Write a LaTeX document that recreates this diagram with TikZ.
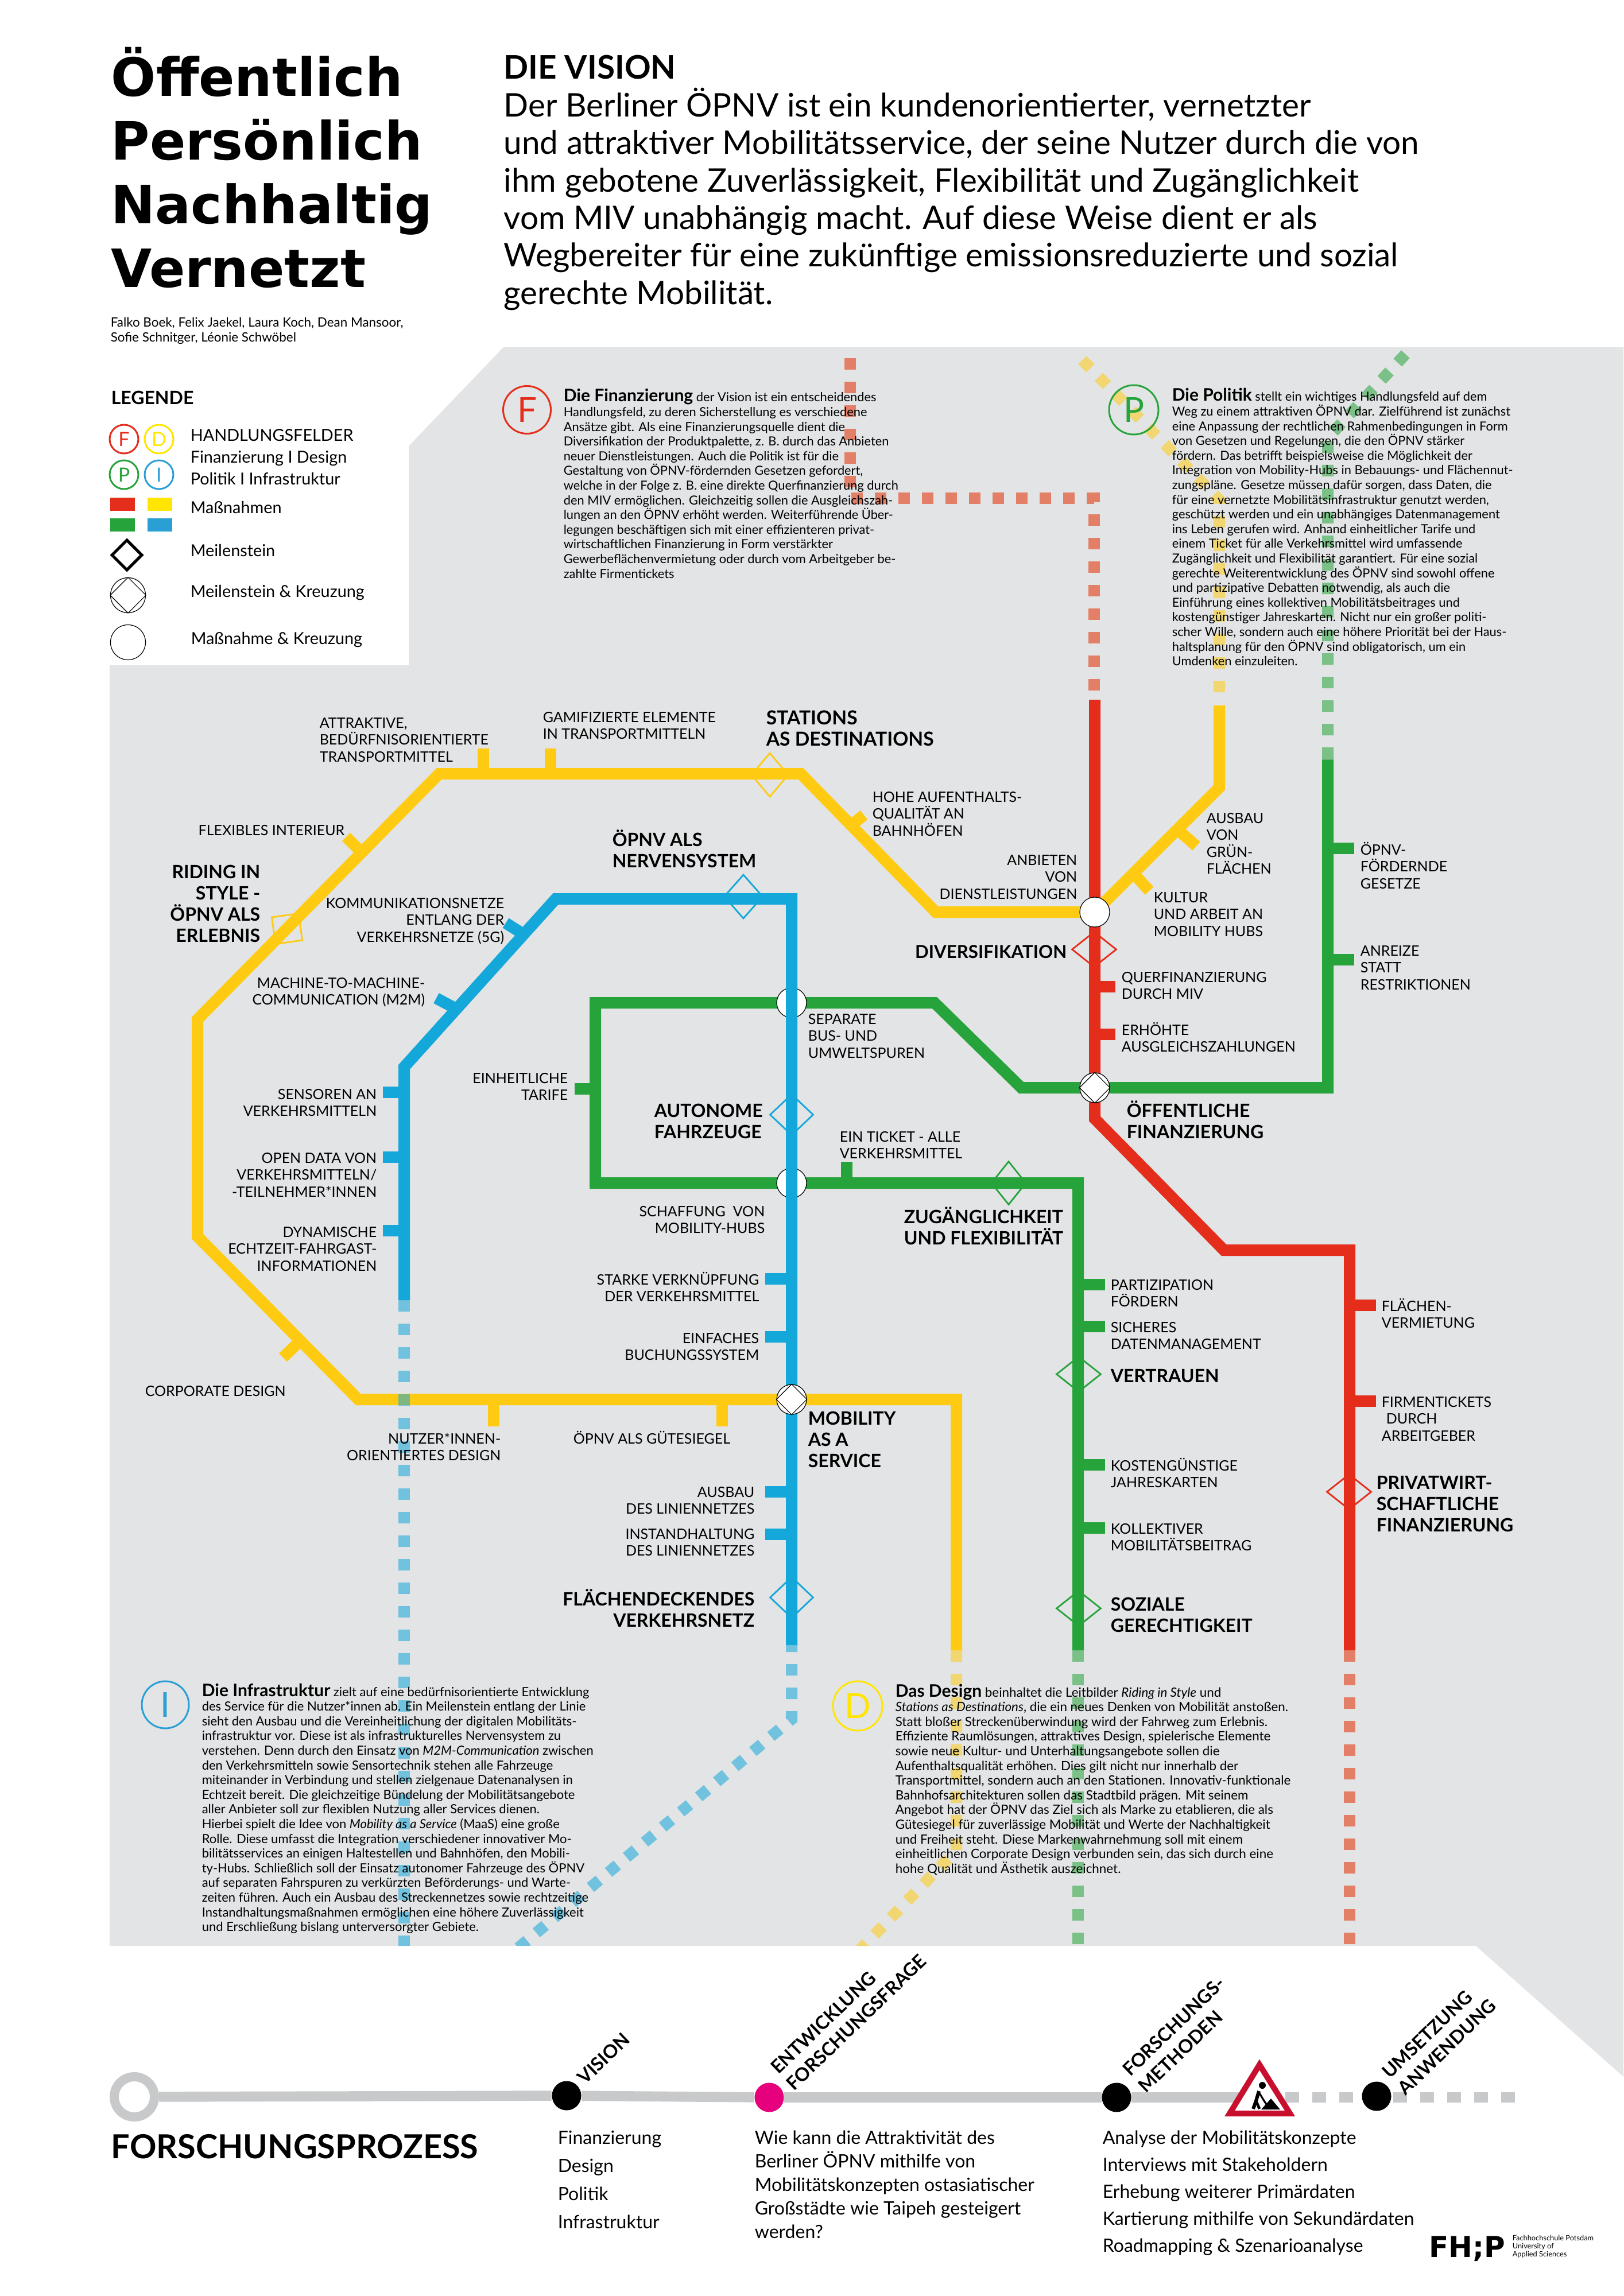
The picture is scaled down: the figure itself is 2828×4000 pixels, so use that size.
\documentclass[tikz,border=0pt]{standalone}
\usepackage{fontspec}
\usepackage{varwidth}
\setmainfont{Lato}
\newfontfamily\titlefont{DejaVu Sans}
\usetikzlibrary{shapes.geometric}
\definecolor{panel}{HTML}{E2E4E5}
\definecolor{lred}{HTML}{E42D1B}
\definecolor{lredfade}{HTML}{E42D00}
\definecolor{lyellow}{HTML}{FFCB12}
\definecolor{lgreen}{HTML}{27A33B}
\definecolor{lblue}{HTML}{14A7DA}
\definecolor{fieldyellow}{HTML}{FFE500}
\definecolor{fieldblue}{HTML}{2A9FD6}
\definecolor{procgray}{HTML}{C8C9CA}
\definecolor{procpink}{HTML}{E6007E}
\definecolor{warnred}{HTML}{C8102E}
\tikzset{
	rline/.style={draw=lred,line width=5pt},
	yline/.style={draw=lyellow,line width=5pt},
	gline/.style={draw=lgreen,line width=5pt},
	bline/.style={draw=lblue,line width=5pt},
	fade/.style={opacity=.55,dash pattern=on 5pt off 5.25pt},
	crossing/.style={circle,draw,fill=white,inner sep=0pt,line width=.3pt,minimum size=13pt},
	mile/.style n args={3}{diamond,aspect=1,draw=#1,inner sep=0pt,line width=.7pt,minimum width=#2*.25pt,minimum height=#3*.25pt},
	field/.style n args={3}{circle,draw=#1,text=#1,inner sep=0pt,line width=.75pt,minimum size=#2*.25pt,font=\fontsize{#3}{#3}\selectfont},
	lab/.style={inner sep=0pt,anchor=base west,font=\fontsize{6.25}{7.4}\selectfont,execute at begin node={\begin{varwidth}[t]{500pt}\raggedright},execute at end node={\end{varwidth}}},
	labr/.style={lab,anchor=base east,execute at begin node=\raggedleft},
	hd/.style={lab,font=\fontsize{8}{9.25}\selectfont\bfseries},
	hdr/.style={labr,font=\fontsize{8}{9.25}\selectfont\bfseries},
	body/.style={lab,font=\fontsize{5.45}{6.4}\selectfont},
	legend/.style={lab,font=\fontsize{7.2}{9.5}\selectfont},
	visiontext/.style={lab,font=\fontsize{14.15}{16.35}\selectfont},
	steptext/.style={lab,font=\fontsize{8}{#1}\selectfont},
	steplabel/.style={lab,rotate=44,anchor=south west,font=\fontsize{8.1}{10}\selectfont\bfseries},
	stepdot/.style={circle,fill=#1,inner sep=0pt,minimum size=12.75pt},
	procline/.style={draw=procgray,line width=4.4pt}
}
\newcommand{\bodyhead}[1]{{\fontsize{7.5}{6.4}\selectfont\bfseries #1}}
\begin{document}
\begin{tikzpicture}[x=.25pt,y=-.25pt]
\useasboundingbox (0,0) rectangle (2828,4000);
\fill[panel] (877,605) -- (2828,605) -- (2828,3618) -- (2571,3390) -- (191,3390) -- (191,1159) -- (712,1159) -- (712,777) -- cycle;

\coordinate (crossYR) at (1907,1589);
\coordinate (crossGBa) at (1379,1747);
\coordinate (crossGBb) at (1379,2061);
\coordinate (crossYB) at (1379,2438);
\coordinate (crossRG) at (1907,1895);

\draw[yline] (crossYR) -- (1630,1589) -- (1395,1348) -- (765,1348) -- (344,1776) -- (344,2154) -- (624,2438) -- (1666,2438) -- (1666,2875);
\draw[yline] (crossYR) -- (2124,1372) -- (2124,1229);
\foreach \x in {842,959}
	\draw[yline] (\x,1304) -- (\x,1348);
\foreach \x in {860,1258}
	\draw[yline] (\x,2438) -- (\x,2485);
\draw[yline] (631,1486) -- (603,1458);
\draw[yline] (523,2336) -- (493,2365);
\draw[yline] (1482,1438) -- (1505,1420);
\draw[yline] (2051,1445) -- (2084,1474);
\draw[yline] (1975,1522) -- (2002,1552);

\draw[rline] (1907,1219) -- (1907,1949) -- (2132,2178) -- (2351,2178) -- (2351,2875);
\foreach \y in {1719,1802}
	\draw[rline] (1907,\y) -- (1943,\y);
\foreach \y in {2274,2441}
	\draw[rline] (2351,\y) -- (2397,\y);

\draw[gline] (2313,1323) -- (2313,1895) -- (1779,1895) -- (1628,1747) -- (1037,1747) -- (1037,2061) -- (1878,2061) -- (1878,2875);
\foreach \y in {1478,1672}
	\draw[gline] (2313,\y) -- (2359,\y);
\foreach \y in {2238,2311,2552,2662}
	\draw[gline] (1878,\y) -- (1925,\y);
\draw[gline] (1037,1897) -- (1001,1897);
\draw[gline] (1475,2061) -- (1475,2024);

\node[crossing] (kGBa) at (crossGBa) {};
\node[crossing] (kGBb) at (crossGBb) {};

\draw[bline] (704,2265) -- (704,1859) -- (968,1566) -- (1379,1566) -- (1379,2866);
\foreach \y in {1903,2016,2144}
	\draw[bline] (704,\y) -- (667,\y);
\foreach \y in {2228,2329,2599,2673}
	\draw[bline] (1379,\y) -- (1333,\y);
\draw[bline] (911,1627) -- (881,1608);
\draw[bline] (792,1756) -- (760,1739);

\begin{scope}
\clip (877,605) -- (2828,605) -- (2828,3618) -- (2571,3390) -- (191,3390) -- (191,1159) -- (712,1159) -- (712,777) -- cycle;
\draw[yline,fade] (2124,1206) -- (2124,871) -- (1892,634) -- (1880,622);
\draw[rline,fade,draw=lredfade] (1906,1203) -- (1906,868) -- (1481,868) -- (1481,622);
\draw[gline,fade] (2313,1322) -- (2313,763) -- (2453,612);
\draw[bline,fade] (704,2265) -- (704,3400);
\draw[bline,fade] (1379,2858) -- (1379,2995) -- (895,3400);
\draw[yline,fade] (1666,2875) -- (1666,3223) -- (1495,3400);
\draw[gline,fade] (1878,2875) -- (1878,3400);
\draw[rline,fade,draw=lredfade] (2351,2875) -- (2351,3400);
\end{scope}

\node[crossing] (kYR) at (crossYR) {};
\node[crossing] (kYB) at (crossYB) {};
\node[crossing] (kRG) at (crossRG) {};
\draw[line width=.3pt] (kYB.north) -- (kYB.east) -- (kYB.south) -- (kYB.west) -- cycle;
\draw[line width=.3pt] (kRG.north) -- (kRG.east) -- (kRG.south) -- (kRG.west) -- cycle;

\node[mile={lyellow}{65}{77}] (mStations) at (1341,1350) {};
\node[draw=lyellow,line width=.7pt,inner sep=0pt,minimum size=11.75pt,rotate=8] (mRiding) at (500,1618) {};
\node[mile={lblue}{68}{77}] (mNerven) at (1295,1562) {};
\node[mile={lblue}{76}{72}] (mAutonom) at (1379,1942) {};
\node[mile={lblue}{76}{72}] (mFlaeche) at (1379,2783) {};
\node[mile={lgreen}{61}{76}] (mZugang) at (1757,2061) {};
\node[mile={lgreen}{78}{62}] (mVertrauen) at (1879,2394) {};
\node[mile={lgreen}{78}{62}] (mSozial) at (1879,2802) {};
\node[mile={lred}{78}{62}] (mDivers) at (1906,1654) {};
\node[mile={lred}{78}{62}] (mPrivat) at (2350,2599) {};

\node[lab] (lAttraktiv) at (556,1268) {ATTRAKTIVE,\\BEDÜRFNISORIENTIERTE\\TRANSPORTMITTEL};
\node[lab] (lGamify) at (945,1258) {GAMIFIZIERTE ELEMENTE\\IN TRANSPORTMITTELN};
\node[labr] (lFlex) at (601,1455) {FLEXIBLES INTERIEUR};
\node[labr] (lKommu) at (879,1582) {KOMMUNIKATIONSNETZE\\ENTLANG DER\\VERKEHRSNETZE (5G)};
\node[labr] (lMachine) at (741,1721) {MACHINE-TO-MACHINE-\\COMMUNICATION (M2M)};
\node[labr] (lSensor) at (657,1915) {SENSOREN AN\\VERKEHRSMITTELN};
\node[labr] (lOpen) at (657,2026) {OPEN DATA VON\\VERKEHRSMITTELN/\\-TEILNEHMER*INNEN};
\node[labr] (lDyna) at (657,2155) {DYNAMISCHE\\ECHTZEIT-FAHRGAST-\\INFORMATIONEN};
\node[labr] (lTarife) at (990,1887) {EINHEITLICHE\\TARIFE};
\node[labr] (lHubs) at (1333,2119) {SCHAFFUNG\ \ VON\\MOBILITY-HUBS};
\node[labr] (lStark) at (1323,2238) {STARKE VERKNÜPFUNG\\DER VERKEHRSMITTEL};
\node[labr] (lBuch) at (1323,2340) {EINFACHES\\BUCHUNGSSYSTEM};
\node[lab] (lCorp) at (252,2432) {CORPORATE DESIGN};
\node[labr] (lNutzer) at (873,2515) {NUTZER*INNEN-\\ORIENTIERTES DESIGN};
\node[lab] (lGuete) at (998,2515) {ÖPNV ALS GÜTESIEGEL};
\node[labr] (lNetz) at (1315,2608) {AUSBAU\\DES LINIENNETZES};
\node[labr] (lInstand) at (1315,2681) {INSTANDHALTUNG\\DES LINIENNETZES};
\node[lab] (lSepar) at (1407,1784) {SEPARATE\\BUS- UND\\UMWELTSPUREN};
\node[lab] (lTicket) at (1462,1989) {EIN TICKET - ALLE\\VERKEHRSMITTEL};
\node[lab] (lHohe) at (1519,1397) {HOHE AUFENTHALTS-\\QUALITÄT AN\\BAHNHÖFEN};
\node[labr] (lAnbiet) at (1877,1507) {ANBIETEN\\VON\\DIENSTLEISTUNGEN};
\node[lab] (lGruen) at (2101,1434) {AUSBAU\\VON\\GRÜN-\\FLÄCHEN};
\node[lab] (lKultur) at (2009,1572) {KULTUR\\UND ARBEIT AN\\MOBILITY HUBS};
\node[lab] (lQuer) at (1953,1711) {QUERFINANZIERUNG\\DURCH MIV};
\node[lab] (lErhoeht) at (1953,1803) {ERHÖHTE\\AUSGLEICHSZAHLUNGEN};
\node[lab] (lGesetz) at (2369,1489) {ÖPNV-\\FÖRDERNDE\\GESETZE};
\node[lab] (lAnreiz) at (2369,1665) {ANREIZE\\STATT\\RESTRIKTIONEN};
\node[lab] (lPartizip) at (1934,2247) {PARTIZIPATION\\FÖRDERN};
\node[lab] (lDaten) at (1934,2321) {SICHERES\\DATENMANAGEMENT};
\node[lab] (lKosten) at (1934,2562) {KOSTENGÜNSTIGE\\JAHRESKARTEN};
\node[lab] (lKollekt) at (1934,2672) {KOLLEKTIVER\\MOBILITÄTSBEITRAG};
\node[lab] (lVermiet) at (2406,2284) {FLÄCHEN-\\VERMIETUNG};
\node[lab] (lFirmen) at (2406,2451) {FIRMENTICKETS\\\hspace*{2pt}DURCH\\ARBEITGEBER};

\node[hdr] (hRiding) at (454,1530) {RIDING IN\\STYLE -\\ÖPNV ALS\\ERLEBNIS};
\node[hd] (hNerven) at (1066,1474) {ÖPNV ALS\\NERVENSYSTEM};
\node[hd,font=\fontsize{8.4}{9.25}\selectfont\bfseries] (hStations) at (1334,1262) {STATIONS\\AS DESTINATIONS};
\node[hd] (hAutonom) at (1139,1946) {AUTONOME\\FAHRZEUGE};
\node[hd] (hMobility) at (1407,2482) {MOBILITY\\AS A\\SERVICE};
\node[hdr] (hFlaeche) at (1315,2797) {FLÄCHENDECKENDES\\VERKEHRSNETZ};
\node[hdr,font=\fontsize{7.8}{9.25}\selectfont\bfseries] (hDivers) at (1859,1669) {DIVERSIFIKATION};
\node[hd] (hOeffent) at (1962,1946) {ÖFFENTLICHE\\FINANZIERUNG};
\node[hd] (hZugang) at (1574,2131) {ZUGÄNGLICHKEIT\\UND FLEXIBILITÄT};
\node[hd] (hVertrauen) at (1934,2408) {VERTRAUEN};
\node[hd] (hSozial) at (1934,2806) {SOZIALE\\GERECHTIGKEIT};
\node[hd] (hPrivat) at (2397,2594) {PRIVATWIRT-\\SCHAFTLICHE\\FINANZIERUNG};

\node[lab,font=\fontsize{23}{27.75}\selectfont\titlefont\bfseries] (title) at (193,168) {Öffentlich\\Persönlich\\Nachhaltig\\Vernetzt};
\node[lab,font=\fontsize{5.6}{6.5}\selectfont] (authors) at (192,570) {Falko Boek, Felix Jaekel, Laura Koch, Dean Mansoor,\\Sofie Schnitger, Léonie Schwöbel};
\node[visiontext] (vision) at (877,138) {\textbf{DIE VISION}\\Der Berliner ÖPNV ist ein kundenorientierter, vernetzter\\und attraktiver Mobilitätsservice, der seine Nutzer durch die von\\ihm gebotene Zuverlässigkeit, Flexibilität und Zugänglichkeit\\vom MIV unabhängig macht. Auf diese Weise dient er als\\Wegbereiter für eine zukünftige emissionsreduzierte und sozial\\gerechte Mobilität.};

\node[lab,font=\fontsize{8}{9}\selectfont\bfseries] (legendTitle) at (193,705) {LEGENDE};
\node[field={lred}{50}{8.5}] (lgF) at (216,765) {F};
\node[field={fieldyellow}{50}{8.5}] (lgD) at (277,765) {D};
\node[field={lgreen}{50}{8.5}] (lgP) at (216,827) {P};
\node[field={fieldblue}{50}{8.5}] (lgI) at (277,827) {I};
\node[legend] (lgFields) at (331,769) {HANDLUNGSFELDER\\Finanzierung I Design\\Politik I Infrastruktur};
\fill[lred] (192,867) rectangle (235,890);
\fill[fieldyellow] (257,867) rectangle (300,890);
\fill[lgreen] (192,903) rectangle (235,926);
\fill[fieldblue] (257,903) rectangle (300,926);
\node[legend] (lgMeasure) at (331,895) {Maßnahmen};
\node[diamond,aspect=1,draw,line width=1.25pt,inner sep=0pt,minimum size=13.5pt] (lgMile) at (221,967) {};
\node[legend] (lgMileText) at (331,969) {Meilenstein};
\node[crossing,minimum size=15.25pt] (lgCross) at (223,1037) {};
\draw[line width=.3pt] (lgCross.north) -- (lgCross.east) -- (lgCross.south) -- (lgCross.west) -- cycle;
\node[legend] (lgCrossText) at (331,1040) {Meilenstein \& Kreuzung};
\node[crossing,minimum size=15.25pt] (lgStop) at (223,1119) {};
\node[legend] (lgStopText) at (332,1122) {Maßnahme \& Kreuzung};

\node[field={lred}{83}{15}] (fieldF) at (918,714) {F};
\node[field={lgreen}{86}{15}] (fieldP) at (1975,714) {P};
\node[field={fieldblue}{82}{15}] (fieldI) at (288,2970) {I};
\node[field={fieldyellow}{86}{15}] (fieldD) at (1494,2972) {D};

\node[body] (textF) at (981,700) {\bodyhead{Die Finanzierung} der Vision ist ein entscheidendes\\Handlungsfeld, zu deren Sicherstellung es verschiedene\\Ansätze gibt. Als eine Finanzierungsquelle dient die\\Diversifikation der Produktpalette, z. B. durch das Anbieten\\neuer Dienstleistungen. Auch die Politik ist für die\\Gestaltung von ÖPNV-fördernden Gesetzen gefordert,\\welche in der Folge z. B. eine direkte Querfinanzierung durch\\den MIV ermöglichen. Gleichzeitig sollen die Ausgleichszah-\\lungen an den ÖPNV erhöht werden. Weiterführende Über-\\legungen beschäftigen sich mit einer effizienteren privat-\\wirtschaftlichen Finanzierung in Form verstärkter\\Gewerbeflächenvermietung oder durch vom Arbeitgeber be-\\zahlte Firmentickets};
\node[body] (textP) at (2041,699) {\bodyhead{Die Politik} stellt ein wichtiges Handlungsfeld auf dem\\Weg zu einem attraktiven ÖPNV dar. Zielführend ist zunächst\\eine Anpassung der rechtlichen Rahmenbedingungen in Form\\von Gesetzen und Regelungen, die den ÖPNV stärker\\fördern. Das betrifft beispielsweise die Möglichkeit der\\Integration von Mobility-Hubs in Bebauungs- und Flächennut-\\zungspläne. Gesetze müssen dafür sorgen, dass Daten, die\\für eine vernetzte Mobilitätsinfrastruktur genutzt werden,\\geschützt werden und ein unabhängiges Datenmanagement\\ins Leben gerufen wird. Anhand einheitlicher Tarife und\\einem Ticket für alle Verkehrsmittel wird umfassende\\Zugänglichkeit und Flexibilität garantiert. Für eine sozial\\gerechte Weiterentwicklung des ÖPNV sind sowohl offene\\und partizipative Debatten notwendig, als auch die\\Einführung eines kollektiven Mobilitätsbeitrages und\\kostengünstiger Jahreskarten. Nicht nur ein großer politi-\\scher Wille, sondern auch eine höhere Priorität bei der Haus-\\haltsplanung für den ÖPNV sind obligatorisch, um ein\\Umdenken einzuleiten.};
\node[body,font=\fontsize{5.5}{6.4}\selectfont] (textI) at (351,2955) {\bodyhead{Die Infrastruktur} zielt auf eine bedürfnisorientierte Entwicklung\\des Service für die Nutzer*innen ab. Ein Meilenstein entlang der Linie\\sieht den Ausbau und die Vereinheitlichung der digitalen Mobilitäts-\\infrastruktur vor. Diese ist als infrastrukturelles Nervensystem zu\\verstehen. Denn durch den Einsatz von \textit{M2M-Communication} zwischen\\den Verkehrsmitteln sowie Sensortechnik stehen alle Fahrzeuge\\miteinander in Verbindung und stellen zielgenaue Datenanalysen in\\Echtzeit bereit. Die gleichzeitige Bündelung der Mobilitätsangebote\\aller Anbieter soll zur flexiblen Nutzung aller Services dienen.\\Hierbei spielt die Idee von \textit{Mobility as a Service} (MaaS) eine große\\Rolle. Diese umfasst die Integration verschiedener innovativer Mo-\\bilitätsservices an einigen Haltestellen und Bahnhöfen, den Mobili-\\ty-Hubs. Schließlich soll der Einsatz autonomer Fahrzeuge des ÖPNV\\auf separaten Fahrspuren zu verkürzten Beförderungs- und Warte-\\zeiten führen. Auch ein Ausbau des Streckennetzes sowie rechtzeitige\\Instandhaltungsmaßnahmen ermöglichen eine höhere Zuverlässigkeit\\und Erschließung bislang unterversorgter Gebiete.};
\node[body,font=\fontsize{5.6}{6.4}\selectfont] (textD) at (1559,2956) {\bodyhead{Das Design} beinhaltet die Leitbilder \textit{Riding in Style} und\\\textit{Stations as Destinations}, die ein neues Denken von Mobilität anstoßen.\\Statt bloßer Streckenüberwindung wird der Fahrweg zum Erlebnis.\\Effiziente Raumlösungen, attraktives Design, spielerische Elemente\\sowie neue Kultur- und Unterhaltungsangebote sollen die\\Aufenthaltsqualität erhöhen. Dies gilt nicht nur innerhalb der\\Transportmittel, sondern auch an den Stationen. Innovativ-funktionale\\Bahnhofsarchitekturen sollen das Stadtbild prägen. Mit seinem\\Angebot hat der ÖPNV das Ziel sich als Marke zu etablieren, die als\\Gütesiegel für zuverlässige Mobilität und Werte der Nachhaltigkeit\\und Freiheit steht. Diese Markenwahrnehmung soll mit einem\\einheitlichen Corporate Design verbunden sein, das sich durch eine\\hohe Qualität und Ästhetik auszeichnet.};

\node[circle,draw=procgray,fill=white,line width=4pt,inner sep=0pt,minimum size=17.5pt] (stepStart) at (234,3653) {};
\node[stepdot=black] (stepVision) at (987,3651) {};
\node[stepdot=procpink] (stepFrage) at (1340,3654) {};
\node[stepdot=black] (stepMethod) at (1945,3654) {};
\coordinate (warnSign) at (2194,3654);
\coordinate (dashStart) at (2239,3654);
\coordinate (dashEnd) at (2640,3654);
\draw[procline,dash pattern=on 6pt off 5.75pt] (dashStart) -- (dashEnd);
\node[stepdot=black] (stepEnd) at (2398,3652) {};
\draw[procline] (stepStart) -- (stepVision);
\draw[procline] (stepVision) -- (stepFrage);
\draw[procline] (stepFrage) -- (stepMethod);
\draw[procline] (stepMethod) -- (warnSign);
\draw[draw=warnred,fill=white,line width=2.5pt] (2194,3597) -- (2247,3682) -- (2142,3682) -- cycle;
\fill[black] (2197,3675) -- (2214,3656) -- (2230,3675) -- cycle;
\node[circle,fill=black,inner sep=0pt,minimum size=3pt] (warnHead) at (2199,3633) {};
\draw[line width=1.5pt] (2193,3643) -- (2188,3660) -- (2183,3674);
\draw[line width=1.2pt] (2188,3660) -- (2194,3674);
\draw[line width=.8pt] (2193,3645) -- (2202,3660) -- (2210,3672);

\node[lab,font=\fontsize{14.4}{15}\selectfont\bfseries] (procTitle) at (193,3760) {FORSCHUNGSPROZESS};
\node[steplabel] (sVision) at (1020,3634) {VISION};
\node[steplabel] (sFrage) at (1384,3645) {ENTWICKLUNG\\FORSCHUNGSFRAGE};
\node[steplabel] (sMethod) at (1997,3649) {FORSCHUNGS-\\METHODEN};
\node[steplabel] (sEnd) at (2449,3653) {UMSETZUNG\\ANWENDUNG};
\node[steptext=12.25] (tVision) at (971,3735) {Finanzierung\\Design\\Politik\\Infrastruktur};
\node[steptext=10.25] (tFrage) at (1314,3735) {Wie kann die Attraktivität des\\Berliner ÖPNV mithilfe von\\Mobilitätskonzepten ostasiatischer\\Großstädte wie Taipeh gesteigert\\werden?};
\node[steptext=11.75] (tMethod) at (1920,3735) {Analyse der Mobilitätskonzepte\\Interviews mit Stakeholdern\\Erhebung weiterer Primärdaten\\Kartierung mithilfe von Sekundärdaten\\Roadmapping \& Szenarioanalyse};
\node[lab,font=\fontsize{12.5}{13}\selectfont\titlefont\bfseries] (logoMark) at (2489,3932) {FH;P};
\node[lab,font=\fontsize{3.2}{3.6}\selectfont] (logoText) at (2634,3903) {Fachhochschule Potsdam\\University of\\Applied Sciences};
\end{tikzpicture}
\end{document}
